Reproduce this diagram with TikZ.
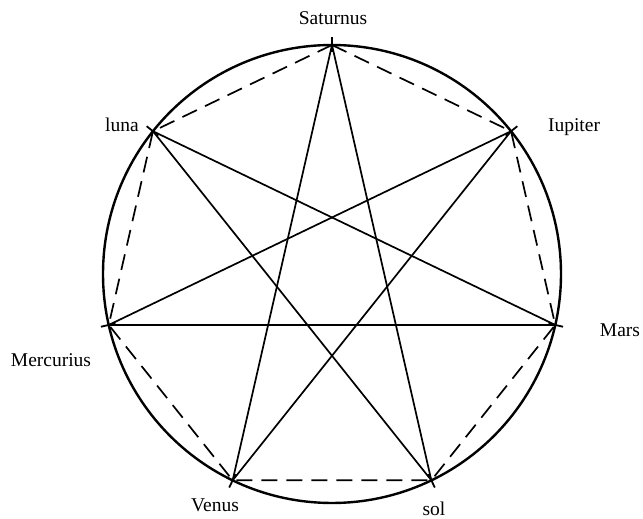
\documentclass[tikz,border=0pt]{standalone}
\usepackage{fontspec}
\setmainfont{Liberation Serif}
\usetikzlibrary{positioning, calc}

\begin{document}
\begin{tikzpicture}[
    x=1pt, y=1pt,
    orbit/.style={draw=black, line width=2.4pt},
    starline/.style={draw=black, line width=1.7pt},
    side/.style={draw=black, line width=1.7pt, dash pattern=on 16pt off 9pt},
    tick/.style={draw=black, line width=1.8pt},
    planet/.style={inner sep=0pt, anchor=base, font=\fontsize{19.5}{22}\selectfont}
]
    \useasboundingbox (0,0) rectangle (643,519);

    \coordinate (c) at (332,245);
    \draw[orbit] (c) circle (229);

    % the seven corners
    \foreach \nm/\ang in {sat/90, iup/38.57, mars/-12.86, sol/-64.29, ven/-115.71, merc/-167.14, luna/141.43}
        \coordinate (\nm) at ($(c)+(\ang:229)$);

    \node[planet] (tSat)  at (333,494) {Saturnus};
    \node[planet] (tLuna) at (122,387) {luna};
    \node[planet] (tIup)  at (574,387) {Iupiter};
    \node[planet] (tMerc) at (51,152)  {Mercurius};
    \node[planet] (tMars) at (620,182) {Mars};
    \node[planet] (tVen)  at (215,7)   {Venus};
    \node[planet] (tSol)  at (434,3)   {sol};

    % heptagon sides
    \draw[side] (sat) -- (iup) -- (mars) -- (sol) -- (ven) -- (merc) -- (luna) -- cycle;

    % the star
    \draw[starline] (sat) -- (ven);
    \draw[starline] (sat) -- (sol);
    \draw[starline] (luna) -- (sol);
    \draw[starline] (luna) -- (mars);
    \draw[starline] (iup) -- (merc);
    \draw[starline] (iup) -- (ven);
    \draw[starline] (merc) -- (mars);

    % small marks at the corners
    \foreach \nm in {sat, iup, mars, sol, ven, merc, luna}
        \draw[tick] ($(c)!0.97!(\nm)$) -- ($(c)!1.035!(\nm)$);
\end{tikzpicture}
\end{document}
